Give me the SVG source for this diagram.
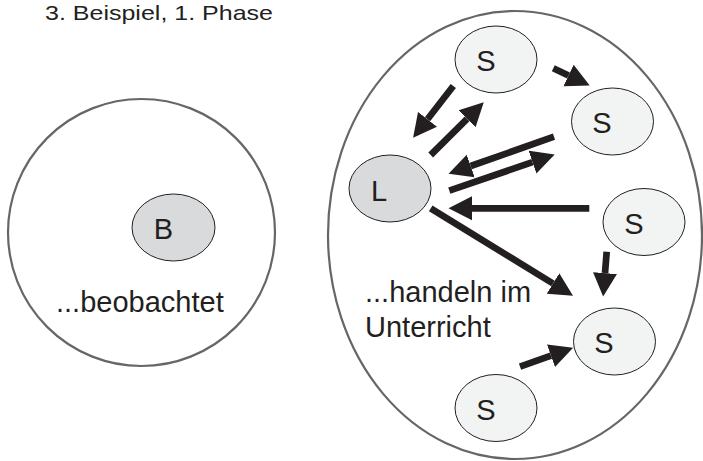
<svg xmlns="http://www.w3.org/2000/svg" width="703" height="461" viewBox="0 0 703 461">
  <style>
    text { font-family: "Liberation Sans", Arial, sans-serif; fill: #231f20; }
    .frame { fill: none; stroke: #666666; stroke-width: 2.2; }
    .node { stroke: #231f20; stroke-width: 1; }
    .s { fill: #f2f3f3; }
    .g { fill: #d9dadb; }
    .lbl { font-size: 29px; text-anchor: middle; }
    .cap { font-size: 29px; }
    .arrow { stroke: #231f20; stroke-width: 6.7; fill: none; marker-end: url(#head); }
  </style>
  <defs>
    <marker id="head" markerUnits="userSpaceOnUse" markerWidth="24" markerHeight="26" viewBox="0 -12 23 24" refX="0" refY="0" orient="auto">
      <path d="M0,-11.5 L22.5,0 L0,11.5 z" fill="#231f20"/>
    </marker>
  </defs>

  <text x="45" y="19.5" font-size="21" textLength="228" lengthAdjust="spacingAndGlyphs">3. Beispiel, 1. Phase</text>

  <!-- observer group -->
  <g id="observer-circle">
    <circle class="frame" cx="141.5" cy="232.5" r="133.5"/>
    <text class="cap" x="56" y="312">...beobachtet</text>
  </g>
  <g id="node-B">
    <ellipse class="node g" cx="173.5" cy="227.5" rx="41.5" ry="33.5"/>
    <text class="lbl" x="163.5" y="239">B</text>
  </g>

  <!-- classroom group -->
  <g id="classroom">
    <ellipse class="frame" cx="515" cy="235" rx="187" ry="224"/>
    <text class="cap" x="365" y="302">...handeln im</text>
    <text class="cap" x="365" y="337">Unterricht</text>
  </g>
  <g id="node-L">
    <ellipse class="node g" cx="390" cy="188.5" rx="41" ry="33.5"/>
    <text class="lbl" x="379" y="200.5">L</text>
  </g>
  <g id="node-S1">
    <ellipse class="node s" cx="496" cy="59.5" rx="41" ry="33.5"/>
    <text class="lbl" x="486" y="71">S</text>
  </g>
  <g id="node-S2">
    <ellipse class="node s" cx="612.5" cy="121.5" rx="41" ry="33.5"/>
    <text class="lbl" x="602" y="133">S</text>
  </g>
  <g id="node-S3">
    <ellipse class="node s" cx="644" cy="222" rx="41" ry="33.5"/>
    <text class="lbl" x="634" y="233.5">S</text>
  </g>
  <g id="node-S4">
    <ellipse class="node s" cx="614.5" cy="341.5" rx="41" ry="33.5"/>
    <text class="lbl" x="604" y="353">S</text>
  </g>
  <g id="node-S5">
    <ellipse class="node s" cx="496" cy="408" rx="41" ry="33.5"/>
    <text class="lbl" x="486" y="419.5">S</text>
  </g>

  <!-- interaction arrows -->
  <g id="connectors">
    <line class="arrow" x1="453.3" y1="86" x2="427.5" y2="119.3"/>
    <line class="arrow" x1="430.7" y1="155" x2="467.1" y2="118.8"/>
    <line class="arrow" x1="554" y1="136.7" x2="470.7" y2="166"/>
    <line class="arrow" x1="449.3" y1="190.7" x2="532.5" y2="162.1"/>
    <line class="arrow" x1="589.3" y1="208.3" x2="472" y2="208.3"/>
    <line class="arrow" x1="553.3" y1="68.3" x2="568.5" y2="75.5"/>
    <line class="arrow" x1="430.7" y1="208.3" x2="553" y2="283.5"/>
    <line class="arrow" x1="606.7" y1="251.7" x2="605" y2="273.1"/>
    <line class="arrow" x1="520" y1="366.7" x2="551" y2="355.7"/>
  </g>
</svg>
